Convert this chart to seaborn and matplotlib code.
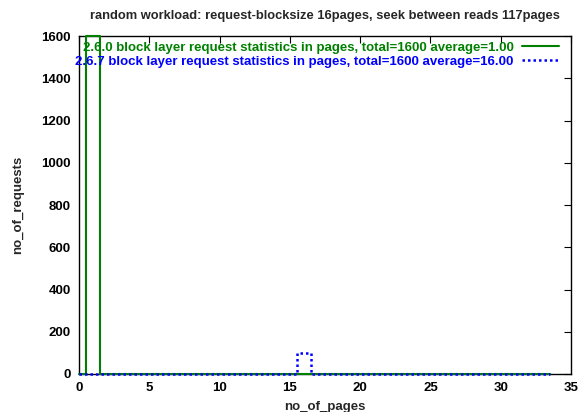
import numpy as np
import pandas as pd
import matplotlib
matplotlib.use("Agg")
import matplotlib.pyplot as plt
import seaborn as sns

pages = list(range(0, 34))
req_260 = [0, 1600] + [0] * 32
req_267 = [0] * 16 + [100] + [0] * 17

label_260 = "2.6.0 block layer request statistics in pages, total=1600 average=1.00"
label_267 = "2.6.7 block layer request statistics in pages, total=1600 average=16.00"
title = "random workload: request-blocksize 16pages, seek between reads 117pages"
xticks = [0, 5, 10, 15, 20, 25, 30, 35]
yticks = [0, 200, 400, 600, 800, 1000, 1200, 1400, 1600]


def histeps(x, y, xmin=0.0):
    # bin edges centred on each x value, each level held across its bin
    x = np.asarray(x, float)
    y = np.asarray(y, float)
    xs = np.column_stack([x - 0.5, x + 0.5]).ravel()
    xs = np.clip(xs, xmin, None)
    ys = np.repeat(y, 2)
    return pd.DataFrame({"x": xs, "y": ys})


sns.set_theme(style="white")
plt.rcParams["font.family"] = ["Liberation Sans", "DejaVu Sans"]
plt.rcParams["font.weight"] = "bold"
FS = 9.5

fig = plt.figure(figsize=(5.84, 4.12), dpi=100)
ax = fig.add_axes([79 / 584, 1 - 374 / 412, (571 - 79) / 584, (374 - 36) / 412])

d1 = histeps(pages, req_260)
d2 = histeps(pages, req_267)
sns.lineplot(data=d1, x="x", y="y", sort=False, ax=ax, color="#008000",
             linewidth=1.5, label=label_260, estimator=None,
             zorder=4, clip_on=False)
sns.lineplot(data=d2, x="x", y="y", sort=False, ax=ax, color="#0000ff",
             linewidth=1.8, linestyle=(0, (1, 1.2)), label=label_267,
             estimator=None, zorder=5, clip_on=False)

ax.set_xlim(0, 35)
ax.set_ylim(0, 1600)
ax.set_xticks(xticks)
ax.set_yticks(yticks)
ax.tick_params(direction="in", length=5, width=0.8, top=True, right=True,
               labelsize=FS, pad=6, colors="black")
for lbl in ax.get_xticklabels() + ax.get_yticklabels():
    lbl.set_fontweight("bold")
for s in ax.spines.values():
    s.set_color("black")
    s.set_linewidth(1.0)

ax.set_xlabel("no_of_pages", fontsize=FS, fontweight="bold", labelpad=5)
ax.set_ylabel("no_of_requests", fontsize=FS, fontweight="bold", labelpad=12)
ax.set_title(title, fontsize=9.3, fontweight="bold", pad=12)

leg = ax.legend(loc="upper right", frameon=False, markerfirst=False,
                fontsize=FS, handlelength=2.8, handletextpad=0.68,
                labelspacing=0.15, borderaxespad=0.0,
                bbox_to_anchor=(0.987, 1.0), labelcolor="linecolor")
for t in leg.get_texts():
    t.set_fontweight("bold")

fig.savefig("out.png", dpi=100)
